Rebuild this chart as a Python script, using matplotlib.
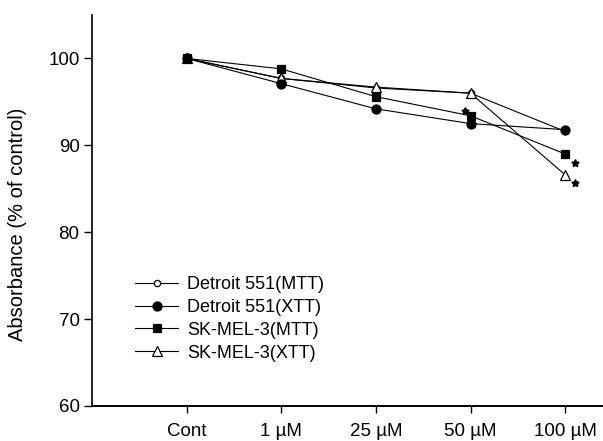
import matplotlib
matplotlib.use("Agg")
import matplotlib.pyplot as plt
from matplotlib.transforms import ScaledTranslation

plt.rcParams["font.family"] = ["Liberation Sans", "DejaVu Sans"]

# data
doses = ["Cont", "1 \u00b5M", "25 \u00b5M", "50 \u00b5M", "100 \u00b5M"]
detroit_mtt = [100.0, 97.7, 96.6, 96.0, 91.6]
detroit_xtt = [100.0, 97.1, 94.2, 92.5, 91.8]
skmel_mtt = [100.0, 98.8, 95.6, 93.4, 89.0]
skmel_xtt = [100.0, 97.7, 96.7, 96.0, 86.6]
# significance marks: (series, dose index)
stars = [("skmel_mtt", 3), ("skmel_mtt", 4), ("skmel_xtt", 4)]

series = {
    "detroit_mtt": (detroit_mtt, "o", "white", "Detroit 551(MTT)"),
    "detroit_xtt": (detroit_xtt, "o", "black", "Detroit 551(XTT)"),
    "skmel_mtt": (skmel_mtt, "s", "black", "SK-MEL-3(MTT)"),
    "skmel_xtt": (skmel_xtt, "^", "white", "SK-MEL-3(XTT)"),
}
z = {"detroit_mtt": 2, "skmel_xtt": 3, "skmel_mtt": 4, "detroit_xtt": 5}
msize = {"detroit_mtt": 4.5, "detroit_xtt": 6.5, "skmel_mtt": 5.5, "skmel_xtt": 7}

fig = plt.figure(figsize=(6.03, 4.41), dpi=100)
ax = fig.add_axes([0.1526, 0.0794, 0.8474, 0.8866])

x = list(range(len(doses)))
for key, (vals, mk, fc, label) in series.items():
    ax.plot(x, vals, color="black", linewidth=0.8, marker=mk, markersize=msize[key],
            markerfacecolor=fc, markeredgecolor="black", markeredgewidth=0.9,
            label=label, zorder=z[key])

# stars sit a few pixels off the marker they belong to
star_offsets = {("skmel_mtt", 3): (-6, 5), ("skmel_mtt", 4): (10, -9), ("skmel_xtt", 4): (10, -8)}
for key, i in stars:
    vals = series[key][0]
    dx, dy = star_offsets[(key, i)]
    shift = ScaledTranslation(dx / 100, dy / 100, fig.dpi_scale_trans)
    ax.plot([x[i]], [vals[i]], linestyle="none", marker=(5, 1), markersize=5.5,
            color="black", transform=ax.transData + shift, zorder=6)

ax.set_xlim(-1.0, 4.4)
ax.set_ylim(60, 105)
ax.set_xticks(x)
ax.set_xticklabels(doses, fontsize=13.5)
ax.set_yticks([60, 70, 80, 90, 100])
ax.tick_params(axis="y", labelsize=13.5, length=6, width=1, direction="out", pad=3)
ax.tick_params(axis="x", length=5, width=1, direction="out", pad=7)
ax.set_ylabel("Absorbance (% of control)", fontsize=14.5)
ax.yaxis.set_label_coords(-0.128, 0.465)

for side in ("top", "right"):
    ax.spines[side].set_visible(False)
ax.spines["left"].set_linewidth(1.2)
ax.spines["bottom"].set_linewidth(1.4)

leg = ax.legend(loc="upper left", bbox_to_anchor=(0.084, 0.332), frameon=False, fontsize=13,
                handlelength=2.4, handletextpad=0.5, labelspacing=0.32,
                borderpad=0, borderaxespad=0)

fig.savefig("out.png", dpi=100)
